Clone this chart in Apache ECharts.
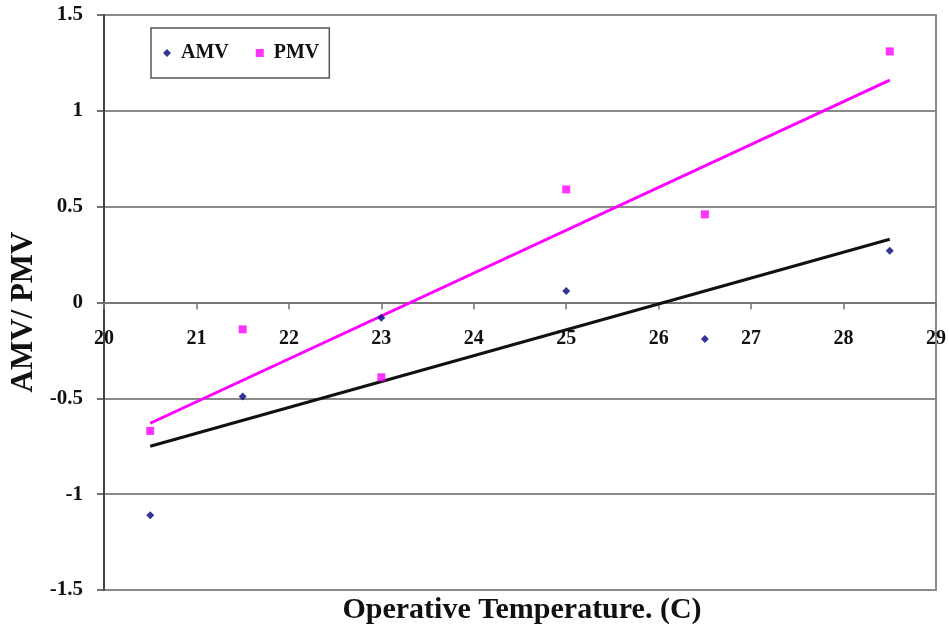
<!DOCTYPE html>
<html>
<head>
<meta charset="utf-8">
<script src="https://cdn.jsdelivr.net/npm/echarts@6/dist/echarts.min.js"></script>
<style>html,body{margin:0;padding:0;background:#fff;}#c{width:949px;height:635px;}</style>
</head>
<body>
<div id="c"></div>
<script>
// Data
const temps = [20.5, 21.5, 23, 25, 26.5, 28.5];
const amv = [-1.11, -0.49, -0.08, 0.06, -0.19, 0.27];
const pmv = [-0.67, -0.14, -0.39, 0.59, 0.46, 1.31];
const trendX = [20.5, 28.5];
const amvTrend = [-0.75, 0.33];
const pmvTrend = [-0.63, 1.16];
const xTitle = 'Operative Temperature. (C)';
const yTitle = 'AMV/ PMV';

const pairs = (xs, ys) => xs.map((x, i) => [x, ys[i]]);
const FONT = '"Liberation Serif", "DejaVu Serif", serif';
const labelStyle = {fontFamily: FONT, fontWeight: 'bold', fontSize: 21, color: '#111'};

const chart = echarts.init(document.getElementById('c'), null, {renderer: 'canvas'});
chart.setOption({
  animation: false,
  backgroundColor: '#ffffff',
  grid: {left: 104, right: 13, top: 15, bottom: 45, show: true, borderColor: '#8a8a8a', borderWidth: 2, backgroundColor: 'transparent'},
  legend: {
    left: 151, top: 28,
    orient: 'horizontal',
    padding: [15, 10, 15, 12],
    itemGap: 27,
    itemWidth: 8, itemHeight: 8,
    borderColor: '#555', borderWidth: 1.5,
    textStyle: {fontFamily: FONT, fontWeight: 'bold', fontSize: 20, color: '#111', padding: [0, 0, 0, 5]},
    data: [{name: 'AMV', icon: 'diamond'}, {name: 'PMV', icon: 'rect'}]
  },
  graphic: [{
    type: 'text', x: 522, y: 595,
    style: {text: xTitle, font: 'bold 30px ' + FONT, fill: '#111', textAlign: 'center', textVerticalAlign: 'top'}
  }, {
    type: 'text', x: 24, y: 312, rotation: Math.PI / 2,
    style: {text: yTitle, font: 'bold 31px ' + FONT, fill: '#111', textAlign: 'center', textVerticalAlign: 'middle'}
  }],
  xAxis: [{
    type: 'value', min: 20, max: 29, interval: 1,
    axisLine: {onZero: true, lineStyle: {color: '#777', width: 2}},
    axisTick: {show: true, length: 7, lineStyle: {color: '#777', width: 1.5}},
    axisLabel: {show: false},
    splitLine: {show: false}
  }, {
    type: 'value', min: 20, max: 29, interval: 1, position: 'bottom', offset: -288,
    axisLine: {show: false, onZero: false},
    axisTick: {show: false},
    axisLabel: Object.assign({margin: 27}, labelStyle, {fontSize: 20}),
    splitLine: {show: false}
  }],
  yAxis: {
    type: 'value', min: -1.5, max: 1.5, interval: 0.5,
    axisLine: {show: true, lineStyle: {color: '#444', width: 2}},
    axisTick: {show: true, length: 7, lineStyle: {color: '#444', width: 1.5}},
    axisLabel: Object.assign({margin: 21}, labelStyle),
    splitLine: {show: true, lineStyle: {color: '#8a8a8a', width: 2}}
  },
  series: [
    {name: 'AMV trend', type: 'line', data: pairs(trendX, amvTrend), showSymbol: false, symbol: 'none',
     lineStyle: {color: '#111', width: 3}, z: 3, silent: true},
    {name: 'PMV trend', type: 'line', data: pairs(trendX, pmvTrend), showSymbol: false, symbol: 'none',
     lineStyle: {color: '#ff00ff', width: 3}, z: 3, silent: true},
    {name: 'AMV', type: 'scatter', data: pairs(temps, amv), symbol: 'diamond', symbolSize: 8,
     itemStyle: {color: '#000080'}, z: 5},
    {name: 'PMV', type: 'scatter', data: pairs(temps, pmv), symbol: 'rect', symbolSize: 8,
     itemStyle: {color: '#ff00ff'}, z: 5}
  ]
});
</script>
</body>
</html>
